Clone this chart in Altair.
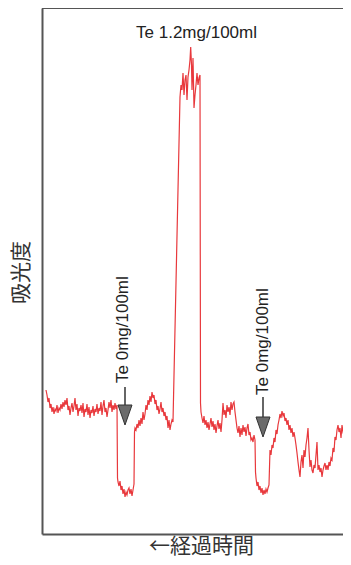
import altair as alt
import pandas as pd

# Time (arbitrary units) and absorbance (arbitrary units) of the recorded trace
time = [46, 47, 48, 49, 50, 51, 52, 53, 54, 55, 56, 57, 58, 59, 60, 61, 62, 63, 64, 65,
        66, 67, 68, 69, 70, 71, 72, 73, 74, 75, 76, 77, 78, 79, 80, 81, 82, 83, 84, 85,
        86, 87, 88, 89, 90, 91, 92, 93, 94, 95, 96, 97, 98, 99, 100, 101, 102, 103, 104, 105,
        106, 107, 108, 109, 110, 111, 112, 113, 114, 115, 116, 117, 117.5, 118, 119, 120, 121, 122, 123, 124,
        125, 126, 127, 128, 129, 130, 131, 132, 133, 134, 134.5, 135, 136, 137, 138, 139, 140, 141, 142, 143,
        144, 145, 146, 147, 148, 149, 150, 151, 152, 153, 154, 155, 156, 157, 158, 159, 160, 161, 162, 163,
        164, 165, 166, 167, 168, 169, 170, 171, 172, 173, 180, 181, 182, 183, 184, 185, 186, 187, 188, 189,
        190, 190.7, 191.5, 192, 193, 194, 195, 196, 197, 198, 199, 200, 200.5, 201, 202, 203, 204, 205, 206, 207,
        208, 209, 210, 211, 212, 213, 214, 215, 216, 217, 218, 219, 220, 221, 222, 223, 224, 225, 226, 227,
        228, 229, 230, 231, 232, 233, 234, 235, 236, 237, 238, 239, 240, 241, 242, 243, 244, 245, 246, 247,
        248, 249, 250, 251, 252, 253, 254, 255, 255.5, 256, 257, 258, 259, 260, 261, 262, 263, 264, 265, 266,
        267, 268, 269, 270, 271, 272, 273, 274, 275, 276, 277, 278, 279, 280, 281, 282, 283, 284, 285, 286,
        287, 288, 289, 290, 291, 292, 293, 294, 295, 296, 297, 298, 299, 300, 301, 302, 303, 304, 305, 306,
        307, 308, 309, 310, 311, 312, 313, 314, 315, 316, 317, 318, 319, 320, 321, 322, 323, 324, 325, 326,
        327, 328, 329, 330, 331, 332, 333, 334, 335, 336, 337, 338, 339, 340, 341, 342, 343, 344, 345, 346,
        347, 348, 349, 350, 351]

absorbance = [210, 205, 198, 202, 192, 196, 188, 193, 186, 191, 189, 195, 187, 192, 190, 196, 191, 198, 193, 200,
              195, 202, 190, 194, 185, 192, 197, 188, 194, 202, 190, 196, 184, 192, 189, 195, 187, 197, 183, 191,
              188, 196, 185, 193, 182, 190, 187, 194, 184, 191, 188, 196, 186, 192, 189, 198, 185, 194, 200, 188,
              192, 183, 190, 198, 192, 200, 188, 195, 190, 197, 191, 195, 122, 118, 114, 119, 110, 114, 106, 111,
              103, 108, 105, 110, 112, 106, 111, 104, 110, 116, 168, 172, 170, 176, 172, 180, 174, 182, 176, 188,
              180, 186, 195, 190, 200, 195, 204, 198, 208, 202, 205, 196, 200, 190, 194, 186, 191, 198, 188, 192,
              184, 188, 180, 184, 172, 180, 170, 176, 180, 178, 503, 515, 510, 527, 505, 520, 525, 500, 523, 530,
              540, 553, 535, 510, 542, 492, 505, 515, 527, 515, 522, 525, 197, 188, 182, 177, 184, 175, 180, 172,
              178, 170, 176, 182, 173, 179, 170, 176, 167, 174, 180, 171, 177, 168, 180, 197, 185, 190, 182, 195,
              188, 193, 185, 198, 190, 196, 198, 188, 180, 172, 167, 174, 163, 172, 165, 175, 168, 173, 164, 172,
              176, 165, 168, 160, 162, 158, 165, 160, 128, 122, 114, 118, 110, 114, 107, 112, 105, 110, 106, 111,
              108, 112, 115, 150, 145, 155, 152, 162, 158, 170, 166, 175, 180, 186, 182, 189, 184, 187, 179, 182,
              175, 180, 170, 175, 167, 172, 163, 168, 162, 155, 147, 138, 130, 123, 138, 145, 132, 150, 143, 155,
              162, 172, 150, 133, 140, 130, 127, 135, 132, 145, 158, 130, 135, 128, 132, 123, 130, 134, 137, 130,
              135, 130, 138, 134, 142, 140, 152, 148, 163, 160, 170, 175, 168, 172, 162, 175, 168, 170, 163, 168,
              172, 175, 160, 165, 153]

# Sample injections (arrows + rotated labels)
inject_time = [125, 263]
arrow_from = [213, 203]
arrow_to = [193, 183]
head_abs = [185, 173]
label_time = [123, 263]
label_abs = [217, 205]
label_text = ["Te 0mg/100ml", "Te 0mg/100ml"]

# Peak label
peak_time = [196.5]
peak_abs = [567]
peak_text = ["Te 1.2mg/100ml"]

x_domain = [42, 343]
y_domain = [66, 592]

df = pd.DataFrame({"time": time, "abs": absorbance})
arrows = pd.DataFrame({"time": inject_time, "from": arrow_from, "to": arrow_to, "head": head_abs})
labels = pd.DataFrame({"time": label_time, "abs": label_abs, "text": label_text})
peak = pd.DataFrame({"time": peak_time, "abs": peak_abs, "text": peak_text})

xs = alt.Scale(domain=x_domain, nice=False, zero=False)
ys = alt.Scale(domain=y_domain, nice=False, zero=False)

W, H = 301, 526
FRAME = "#555555"

xa = alt.Axis(
    title="←経過時間", labels=False, ticks=False, grid=False,
    domainColor=FRAME, domainWidth=2,
    titleFont="Noto Sans CJK JP", titleFontSize=21, titleFontWeight="normal",
    titleColor="#333333", titleX=159, titleY=12, titleBaseline="middle", titleAlign="center")
ya = alt.Axis(
    title="吸光度", labels=False, ticks=False, grid=False,
    domainColor=FRAME, domainWidth=2,
    titleFont="Noto Sans CJK JP", titleFontSize=21, titleFontWeight="normal",
    titleColor="#333333", titleX=-21, titleY=264, titleBaseline="middle", titleAlign="center")

line = alt.Chart(df).mark_line(color="#e8383c", strokeWidth=1.2, clip=True).encode(
    x=alt.X("time:Q", scale=xs, axis=xa),
    y=alt.Y("abs:Q", scale=ys, axis=ya),
)

top_edge = alt.Chart(df).mark_rule(color=FRAME, strokeWidth=2).encode(
    x=alt.value(0), x2=alt.value(W), y=alt.value(0)
)

shafts = alt.Chart(arrows).mark_rule(color="#333333", strokeWidth=1.5).encode(
    x=alt.X("time:Q", scale=xs, axis=xa),
    y=alt.Y("from:Q", scale=ys, axis=ya),
    y2="to:Q",
)

heads = alt.Chart(arrows).mark_point(
    shape="M-0.7,-1L0.7,-1L0,1Z", filled=True, size=400,
    fill="#6b6b6b", stroke="#333333", strokeWidth=1, opacity=1,
).encode(
    x=alt.X("time:Q", scale=xs, axis=xa),
    y=alt.Y("head:Q", scale=ys, axis=ya),
)

side_labels = alt.Chart(labels).mark_text(
    angle=270, align="left", baseline="middle", font="Liberation Sans",
    fontSize=17, color="#222222",
).encode(
    x=alt.X("time:Q", scale=xs, axis=xa),
    y=alt.Y("abs:Q", scale=ys, axis=ya),
    text="text:N",
)

peak_label = alt.Chart(peak).mark_text(
    align="center", baseline="middle", font="Liberation Sans",
    fontSize=17, color="#222222",
).encode(
    x=alt.X("time:Q", scale=xs, axis=xa),
    y=alt.Y("abs:Q", scale=ys, axis=ya),
    text="text:N",
)

chart = alt.layer(line, top_edge, shafts, heads, side_labels, peak_label).properties(
    width=W, height=H,
    autosize="none",
    padding={"left": 34, "top": 0, "right": 0, "bottom": 23},
    background="white",
).configure_view(stroke=None)

chart.save("out.html", embed_options={"renderer": "svg", "actions": False})
